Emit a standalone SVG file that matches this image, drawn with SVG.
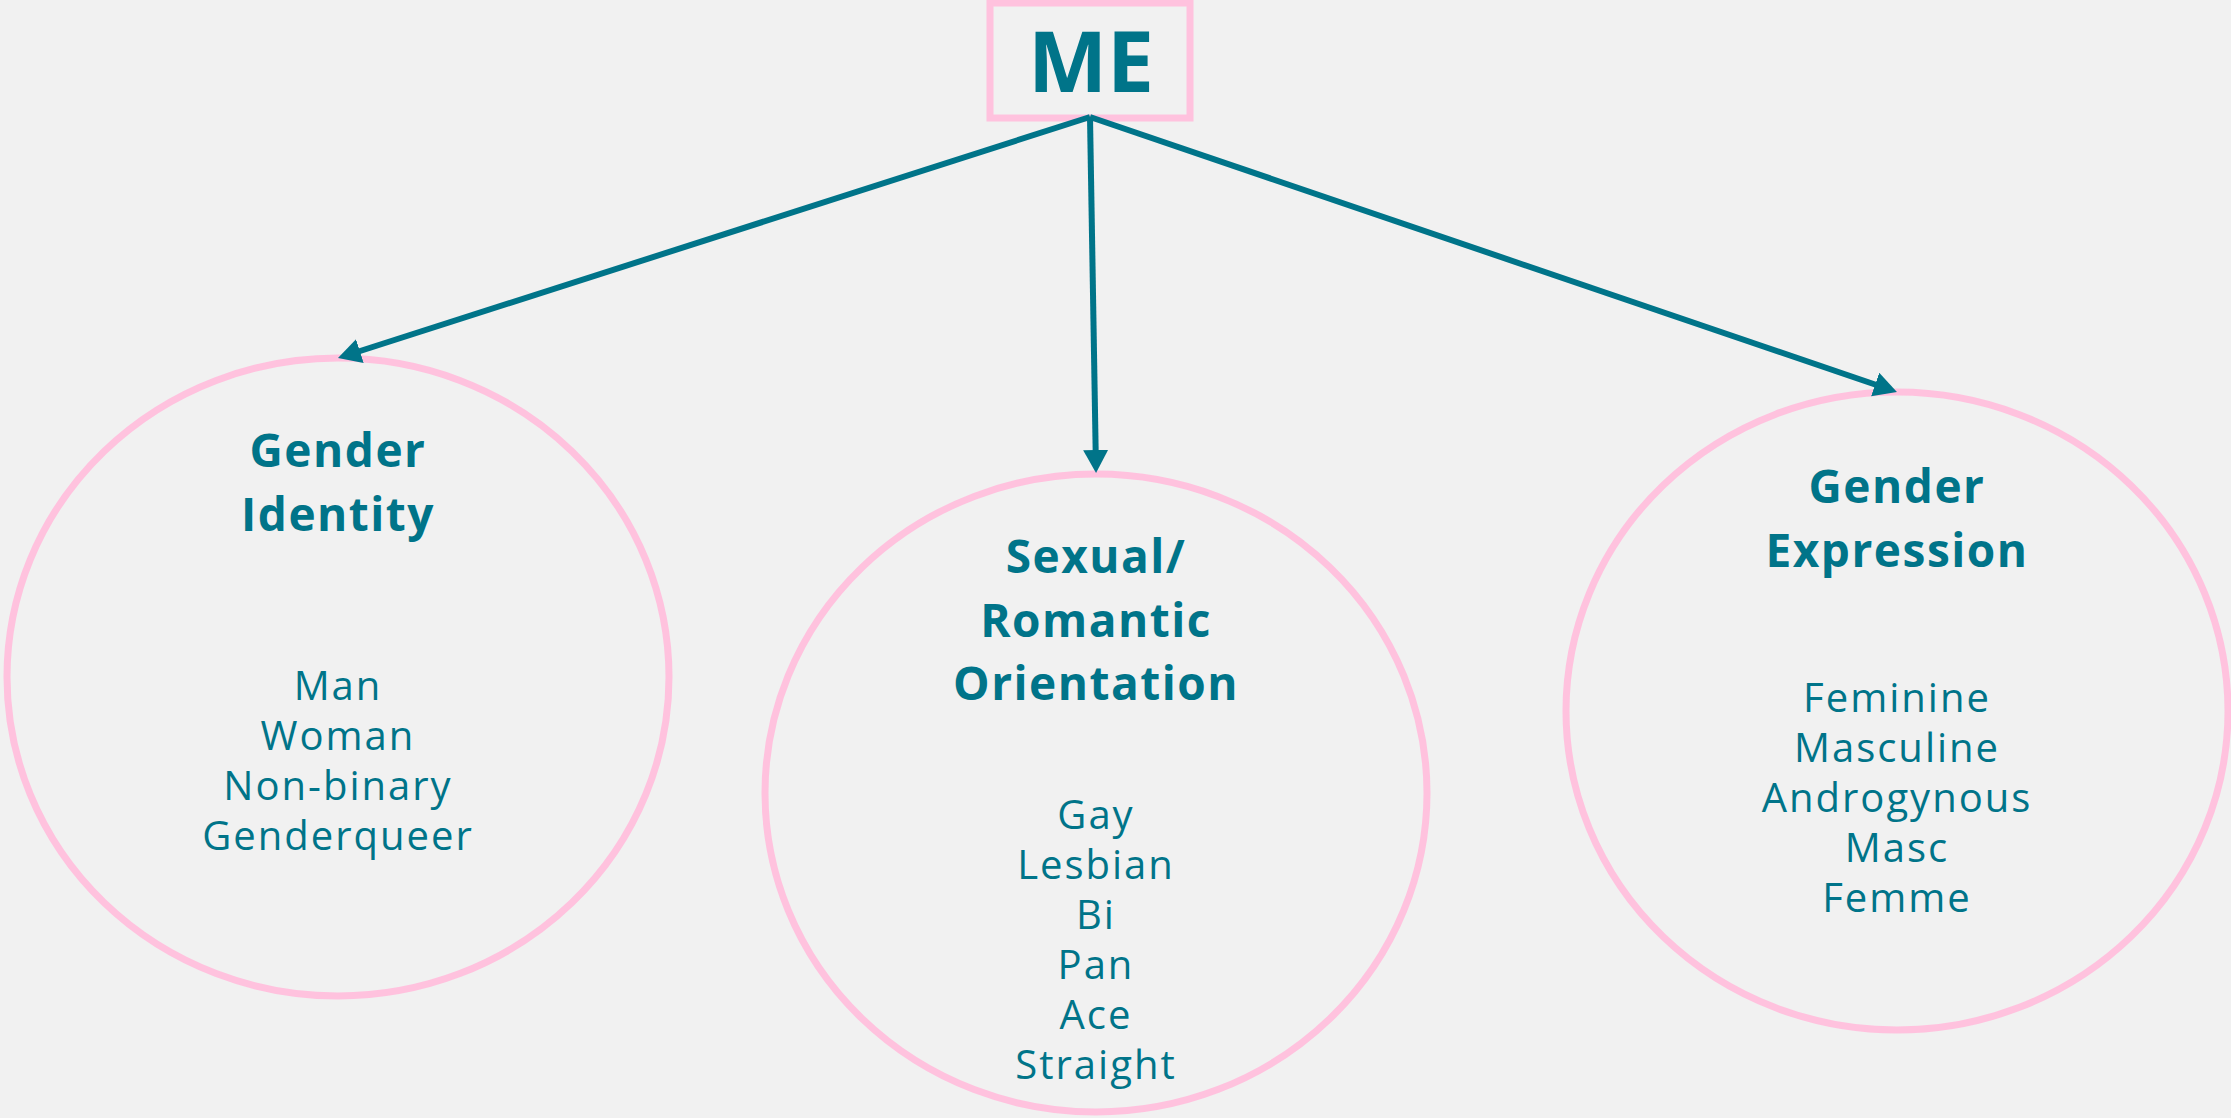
<svg xmlns="http://www.w3.org/2000/svg" width="2231" height="1118" viewBox="0 0 2231 1118">
  <defs>
    <style>
      .bg { fill: #f1f1f1; }
      .box { fill: none; stroke: #ffc2de; stroke-width: 7; }
      .oval { fill: none; stroke: #ffc2de; stroke-width: 7; }
      .link { stroke: #007489; stroke-width: 6; fill: none; }
      .title { font-family: "Open Sans", "Liberation Sans", sans-serif; font-weight: 700; font-size: 84px; fill: #007489; text-anchor: middle; }
      .head { font-family: "Open Sans", "Liberation Sans", sans-serif; font-weight: 700; font-size: 46px; letter-spacing: 1.5px; fill: #007489; text-anchor: middle; }
      .item { font-family: "Open Sans", "Liberation Sans", sans-serif; font-weight: 400; font-size: 40px; letter-spacing: 2px; fill: #007489; text-anchor: middle; }
    </style>
    <marker id="arrow" markerUnits="userSpaceOnUse" markerWidth="24" markerHeight="26" refX="3" refY="12.5" orient="auto">
      <path d="M0,0 L23,12.5 L0,25 Z" fill="#007489"/>
    </marker>
  </defs>

  <rect class="bg" x="0" y="0" width="2231" height="1118"/>

  <!-- root node -->
  <g id="me">
    <rect class="box" x="990" y="3" width="200" height="115"/>
    <text class="title" x="1091" y="92">ME</text>
  </g>

  <!-- category nodes -->
  <g id="gender-identity">
    <ellipse class="oval" cx="338" cy="677" rx="331" ry="319"/>
    <text class="head" x="338" y="467">Gender</text>
    <text class="head" x="338" y="531">Identity</text>
    <text class="item" x="338" y="700">Man</text>
    <text class="item" x="338" y="750">Woman</text>
    <text class="item" x="338" y="800">Non-binary</text>
    <text class="item" x="338" y="850">Genderqueer</text>
  </g>

  <g id="orientation">
    <ellipse class="oval" cx="1096" cy="793" rx="331" ry="319"/>
    <text class="head" x="1096" y="573">Sexual/</text>
    <text class="head" x="1096" y="637">Romantic</text>
    <text class="head" x="1096" y="700">Orientation</text>
    <text class="item" x="1096" y="829">Gay</text>
    <text class="item" x="1096" y="879">Lesbian</text>
    <text class="item" x="1096" y="929">Bi</text>
    <text class="item" x="1096" y="979">Pan</text>
    <text class="item" x="1096" y="1029">Ace</text>
    <text class="item" x="1096" y="1079">Straight</text>
  </g>

  <g id="gender-expression">
    <ellipse class="oval" cx="1897" cy="711" rx="331" ry="319"/>
    <text class="head" x="1897" y="503">Gender</text>
    <text class="head" x="1897" y="567">Expression</text>
    <text class="item" x="1897" y="712">Feminine</text>
    <text class="item" x="1897" y="762">Masculine</text>
    <text class="item" x="1897" y="812">Androgynous</text>
    <text class="item" x="1897" y="862">Masc</text>
    <text class="item" x="1897" y="912">Femme</text>
  </g>

  <!-- connectors -->
  <g id="connectors">
    <line class="link" x1="1090" y1="117" x2="357" y2="352" marker-end="url(#arrow)"/>
    <line class="link" x1="1090" y1="117" x2="1095.7" y2="453" marker-end="url(#arrow)"/>
    <line class="link" x1="1090" y1="117" x2="1878" y2="385.5" marker-end="url(#arrow)"/>
  </g>
</svg>
